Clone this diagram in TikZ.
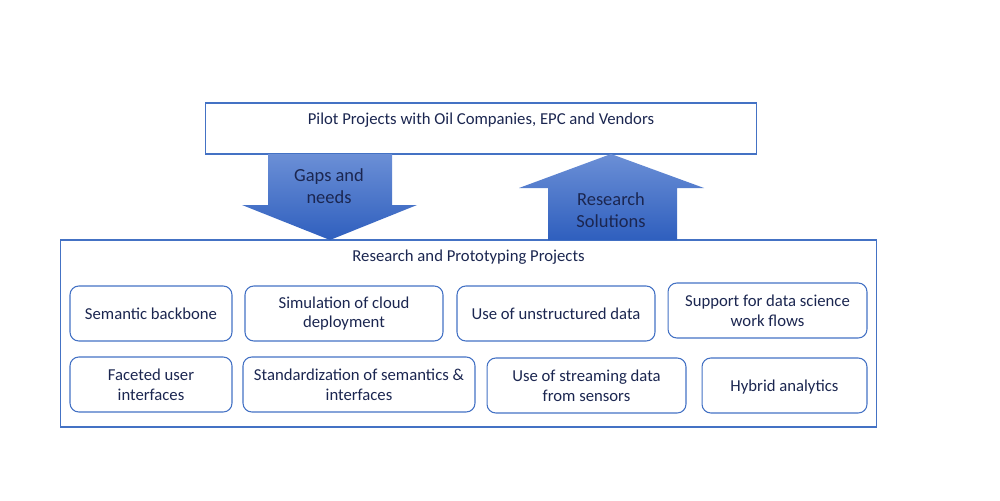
\documentclass[tikz,border=0pt]{standalone}
\usepackage{fontspec}
\setmainfont{Carlito}
\usepackage{tikz}
\usetikzlibrary{shadings}
\definecolor{boxblue}{HTML}{4472C4}
\definecolor{navy}{HTML}{1B2650}
\definecolor{arrowtop}{HTML}{6B8FD6}
\definecolor{arrowbot}{HTML}{2F5FBE}
\tikzset{
	panel/.style={draw=boxblue, line width=0.6pt, text=navy,
		minimum width=#1, inner sep=0pt},
	item/.style={panel=#1, rounded corners=5pt, minimum height=1.1cm,
		align=center},
	title/.style={navy, anchor=center, yshift=-10pt},
	blockarrow/.style={top color=arrowtop, bottom color=arrowbot}
}
\begin{document}
\begin{tikzpicture}[x=0.02cm, y=-0.02cm,
	font=\fontsize{9.5}{11.3}\selectfont]
	\useasboundingbox (0,0) rectangle (1000,500);
	% outer boxes
	\node [panel=11.04cm, minimum height=1.02cm,
		label={[title]north:Pilot Projects with Oil Companies, EPC and Vendors}]
		(1) at (481,128.5) {};
	\node [panel=16.34cm, minimum height=3.74cm,
		label={[title]north:Research and Prototyping Projects}]
		(2) at (468.5,333.5) {};
	% block arrows
	\shade [blockarrow] (268,154) -- (392,154) -- (392,205) -- (417,205)
		-- (330,240) -- (242,205) -- (268,205) -- cycle;
	\shade [blockarrow] (611,154) -- (704,188) -- (677,188) -- (677,240)
		-- (548,240) -- (548,188) -- (519,188) -- cycle;
	\node [text=navy, align=center, font=\fontsize{10.5}{12.5}\selectfont]
		(gaps) at (329,186) {Gaps and\\needs};
	\node [text=navy, align=center, font=\fontsize{10.5}{12.5}\selectfont]
		(sol) at (611,210) {Research\\Solutions};
	% projects
	\node [item=3.24cm] (3) at (151,313.5) {Semantic backbone};
	\node [item=3.96cm] (4) at (344,313.5) {Simulation of cloud\\deployment};
	\node [item=3.96cm] (5) at (556,313.5) {Use of unstructured data};
	\node [item=3.98cm] (6) at (767.5,310.5) {Support for data science\\work flows};
	\node [item=3.24cm] (7) at (151,384.5) {Faceted user\\interfaces};
	\node [item=4.64cm] (8) at (359,384.5) {Standardization of semantics \&\\interfaces};
	\node [item=3.98cm] (9) at (586.5,385.5) {Use of streaming data\\from sensors};
	\node [item=3.30cm, text height=1.6ex, text depth=0.2ex] (10) at (784.5,385.5) {Hybrid analytics};
\end{tikzpicture}
\end{document}
